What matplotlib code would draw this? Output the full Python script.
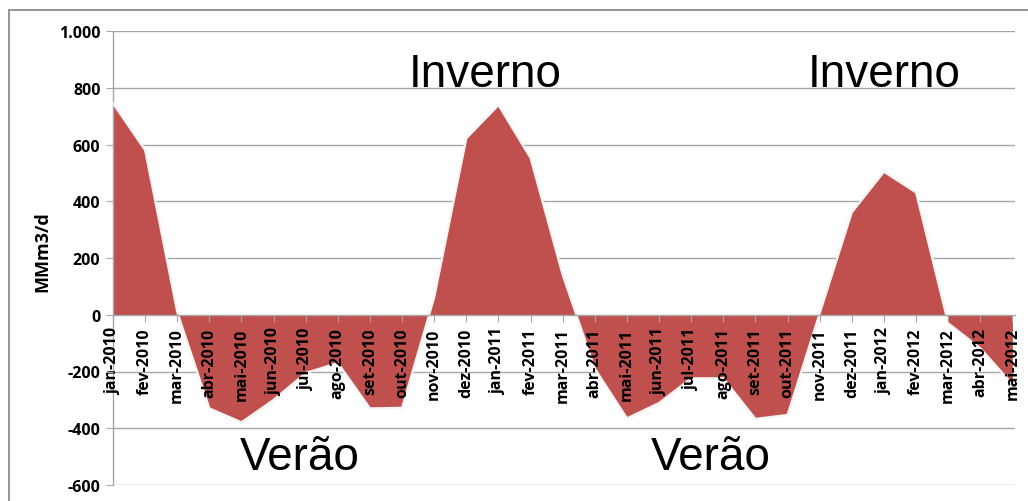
import matplotlib
matplotlib.use("Agg")
import matplotlib.pyplot as plt
from matplotlib.patches import Rectangle
from matplotlib.ticker import FuncFormatter

months = ["jan-2010", "fev-2010", "mar-2010", "abr-2010", "mai-2010", "jun-2010",
          "jul-2010", "ago-2010", "set-2010", "out-2010", "nov-2010", "dez-2010",
          "jan-2011", "fev-2011", "mar-2011", "abr-2011", "mai-2011", "jun-2011",
          "jul-2011", "ago-2011", "set-2011", "out-2011", "nov-2011", "dez-2011",
          "jan-2012", "fev-2012", "mar-2012", "abr-2012", "mai-2012"]
values = [745, 580, 10, -330, -379, -300, -205, -170, -330, -328, 62, 622,
          739, 552, 140, -190, -365, -311, -224, -224, -367, -353, 5, 361,
          504, 431, -30, -118, -245]
yticks = [-600, -400, -200, 0, 200, 400, 600, 800, 1000]
y_label = "MMm3/d"
annotations = [("Inverno", 11.6, 848), ("Inverno", 24.0, 848),
               ("Verão", 5.8, -500), ("Verão", 18.6, -500)]

W, H = 1028, 502
fig = plt.figure(figsize=(W / 100, H / 100), dpi=100)
ax = fig.add_axes([113 / W, 1 - 486 / H, (1015 - 113) / W, (486 - 32) / H])

x = list(range(len(months)))
for yt in yticks:
    if yt != 0:
        ax.axhline(yt, color="#A6A6A6", linewidth=1.0, zorder=1)
ax.fill_between(x, 0, values, color="#C0504D", linewidth=0, zorder=2)
ax.plot(x, values, color="#F4F4F4", linewidth=1.6, zorder=3)

ax.set_xlim(0, 28.08)
ax.set_ylim(-600, 1000)
ax.set_yticks(yticks)
ax.yaxis.set_major_formatter(FuncFormatter(lambda v, p: f"{int(v):,}".replace(",", ".")))

for s in ["top", "right"]:
    ax.spines[s].set_visible(False)
ax.spines["left"].set_color("#A6A6A6")
ax.spines["left"].set_linewidth(1.0)
ax.spines["bottom"].set_position(("data", 0))
ax.spines["bottom"].set_color("#A6A6A6")
ax.spines["bottom"].set_linewidth(1.0)
ax.spines["bottom"].set_zorder(4)

xtick_font = dict(family="Open Sans", weight="bold", size=11.5)
ytick_font = dict(family="Open Sans", weight="bold", size=11.5)
ax.set_xticks(x)
ax.set_xticklabels(months, rotation=90, va="top", ha="center", fontdict=xtick_font)
ax.tick_params(axis="x", direction="out", length=5, color="#A6A6A6", pad=4)
ax.tick_params(axis="y", direction="out", length=5, color="#A6A6A6", pad=4)
for lab in ax.get_yticklabels():
    lab.set_fontproperties(ytick_font)
ax.xaxis.set_zorder(5)
ax.yaxis.set_zorder(5)

fig.text(42 / W, 1 - 252 / H, y_label, rotation=90, ha="center", va="center",
         family="Open Sans", weight="bold", size=13)

for txt, xi, yi in annotations:
    ax.text(xi, yi, txt, ha="center", va="center", fontfamily="Liberation Sans",
            fontsize=33, color="black", zorder=6)

fig.add_artist(Rectangle((9 / W, -0.05), 1.2, 1 - 11 / H + 0.05, transform=fig.transFigure,
                         fill=False, edgecolor="#8C8C8C", linewidth=1.3))

fig.savefig("out.png", dpi=100)
